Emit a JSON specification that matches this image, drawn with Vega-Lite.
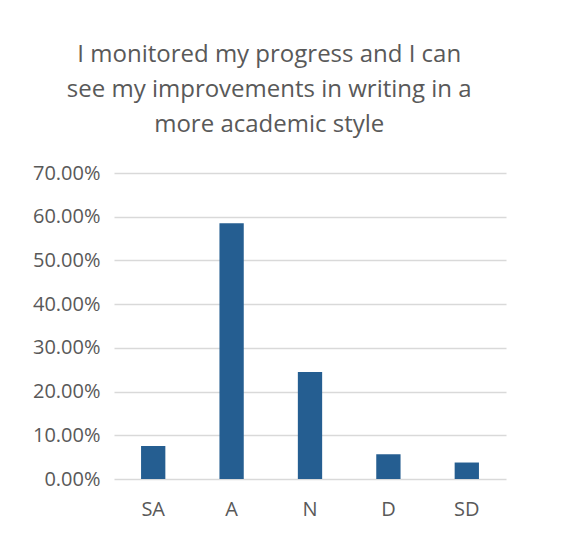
{
  "$schema": "https://vega.github.io/schema/vega-lite/v6.json",
  "width": 392,
  "height": 306,
  "autosize": {"type": "none"},
  "padding": {"left": 114, "top": 173, "right": 55, "bottom": 55},
  "background": "white",
  "data": {"values": [
    {"resp": "SA", "pct": 0.0755},
    {"resp": "A", "pct": 0.585},
    {"resp": "N", "pct": 0.245},
    {"resp": "D", "pct": 0.0566},
    {"resp": "SD", "pct": 0.0377}
  ]},
  "title": {
    "text": ["I monitored my progress and I can", "see my improvements in writing in a", "more academic style"],
    "font": "Open Sans",
    "fontSize": 24,
    "fontWeight": "normal",
    "color": "#595959",
    "lineHeight": 35,
    "anchor": "middle",
    "frame": "bounds",
    "offset": 26
  },
  "mark": {"type": "bar", "color": "#255e91"},
  "encoding": {
    "x": {
      "field": "resp", "type": "nominal", "sort": null,
      "scale": {"paddingInner": 0.69, "paddingOuter": 0.345},
      "axis": {"title": null, "labelAngle": 0, "ticks": false, "domain": false, "labelPadding": 20,
               "labelFont": "Open Sans", "labelFontSize": 20, "labelColor": "#595959"}
    },
    "y": {
      "field": "pct", "type": "quantitative",
      "scale": {"domain": [0, 0.7], "nice": false},
      "axis": {"title": null, "values": [0, 0.1, 0.2, 0.3, 0.4, 0.5, 0.6, 0.7], "format": ".2%",
               "ticks": false, "domain": false, "labelPadding": 14, "gridColor": "#d9d9d9", "gridWidth": 1.3,
               "labelFont": "Open Sans", "labelFontSize": 20, "labelColor": "#595959"}
    }
  },
  "config": {"view": {"stroke": null}}
}
